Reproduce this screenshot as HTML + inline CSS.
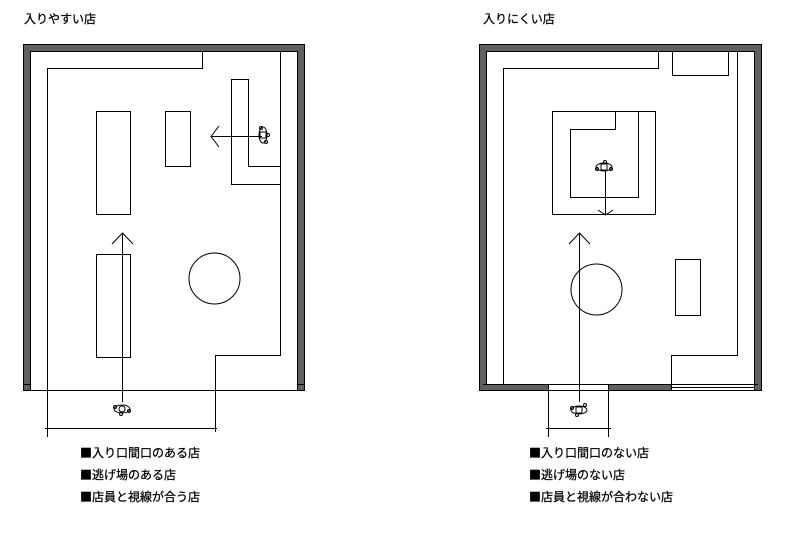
<!DOCTYPE html>
<html><head><meta charset="utf-8"><style>
html,body{margin:0;padding:0;background:#fff;}
svg{display:block}
text{font-family:"Noto Sans CJK JP","Liberation Sans",sans-serif;fill:#000;stroke:#000;stroke-width:0.25}
</style></head><body>
<svg width="788" height="558" viewBox="0 0 788 558" xmlns="http://www.w3.org/2000/svg">
<g font-size="12">
<text x="24" y="23">入りやすい店</text>
<text x="483" y="23">入りにくい店</text>
<text x="80" y="457">■入り口間口のある店</text>
<text x="80" y="479">■逃げ場のある店</text>
<text x="80" y="501">■店員と視線が合う店</text>
<text x="529" y="457">■入り口間口のない店</text>
<text x="529" y="479">■逃げ場のない店</text>
<text x="529" y="501">■店員と視線が合わない店</text>
</g>
<g fill="none" stroke="#000" stroke-width="1">
<path d="M23.5 44.5H304.5V384.5H297.5V51.5H30.5V384.5H23.5Z" fill="#606060"/>
<rect x="23.5" y="384.5" width="7" height="6" fill="#606060"/>
<rect x="297.5" y="384.5" width="7" height="6" fill="#606060"/>
<path d="M23 390.5H305"/>
<path d="M47.5 437V68.5H202.5V51.5"/>
<path d="M280.5 51.5V355.5H215.5V430"/>
<path d="M45 428.5H217M47.5 425V432M215.5 425V432"/>
<rect x="96.5" y="111.5" width="34" height="103"/>
<rect x="96.5" y="254.5" width="34" height="103"/>
<rect x="165.5" y="111.5" width="25" height="55"/>
<path d="M280.5 166.5H248.5V79.5H231.5V184.5H280.5"/>
<path d="M262 136.5H211M219 126L211 136.5L219 147"/>
<path d="M122.5 402V233M112 244L122.5 233L133 244"/>
<circle cx="214.5" cy="278.5" r="25.5"/>
<g transform="translate(122,409)"><ellipse cx="0" cy="0" rx="8" ry="4"/><circle cx="0" cy="0" r="3"/><circle cx="-7" cy="-2" r="1.5"/><circle cx="7" cy="2" r="1.5"/><circle cx="-1" cy="5" r="1.5"/></g>
<g transform="translate(263,135)"><ellipse cx="0" cy="0" rx="4" ry="8"/><rect x="-3" y="-3" width="6" height="6"/><circle cx="-2" cy="-7" r="1.5"/><circle cx="3" cy="7" r="1.5"/><circle cx="5" cy="0" r="1.5"/></g>
<path d="M479.5 44.5H761.5V390.5H479.5Z" fill="#606060"/>
<rect x="486.5" y="51.5" width="268" height="333" fill="#fff"/>
<rect x="548.5" y="384.5" width="60" height="6" fill="#fff"/>
<rect x="671.5" y="384.5" width="83" height="6" fill="#fff"/>
<path d="M483 384.5H758M671.5 387.5H754.5M671.5 390.5H754.5"/>
<path d="M503.5 384.5V68.5H658.5V51.5"/>
<rect x="672.5" y="51.5" width="56" height="24"/>
<path d="M737.5 51.5V355.5H671.5V384.5"/>
<rect x="552.5" y="111.5" width="103" height="103"/>
<path d="M615.5 111.5V129.5H570.5V197.5H638.5V111.5"/>
<path d="M605.5 170V215M598 210L605.5 215L613 210"/>
<path d="M579.5 402V233M569 244L579.5 233L590 244"/>
<circle cx="596.5" cy="289.5" r="25.5"/>
<rect x="675.5" y="259.5" width="25" height="56"/>
<path d="M548.5 391V437M608.5 391V437M546 428.5H611"/>
<g transform="translate(604,167)"><ellipse cx="0" cy="0" rx="8" ry="4"/><rect x="-3" y="-3" width="6" height="6"/><circle cx="-7" cy="2" r="1.5"/><circle cx="1" cy="-5" r="1.5"/><circle cx="7" cy="2" r="1.5"/></g>
<g transform="translate(579,410)"><ellipse cx="0" cy="0" rx="8" ry="4"/><rect x="-3" y="-3" width="6" height="6"/><circle cx="-7" cy="-2" r="1.5"/><circle cx="6" cy="-5" r="1.5"/><circle cx="-2" cy="5" r="1.5"/></g>
</g>
</svg>
</body></html>
